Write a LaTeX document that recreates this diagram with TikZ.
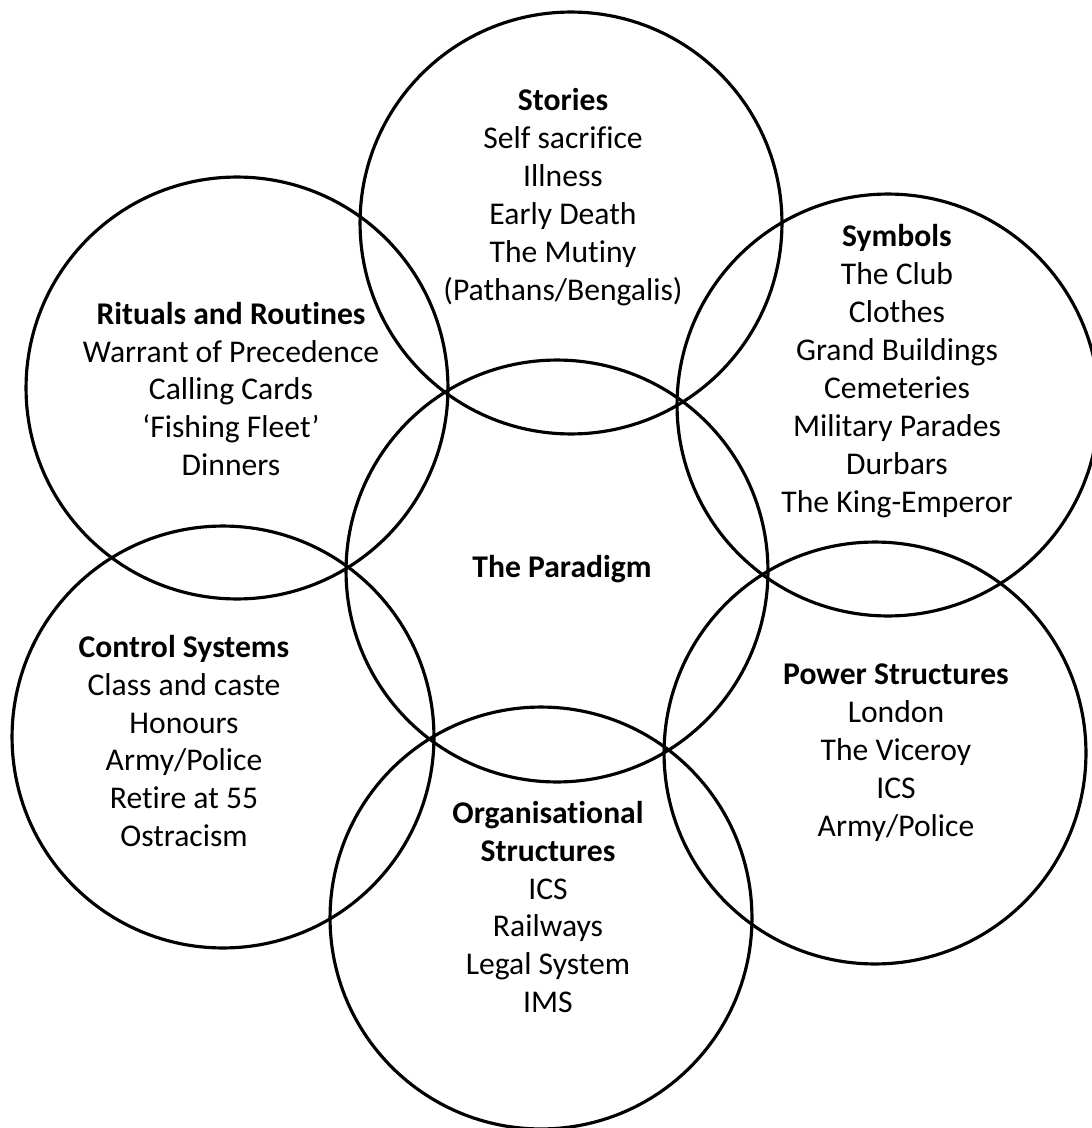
\documentclass[tikz,border=0pt]{standalone}
\usepackage{fontspec}
\setmainfont{Carlito}[Ligatures={NoCommon}]

\begin{document}
\begin{tikzpicture}
  [x=0.02cm,y=-0.02cm,
   % Styles
   ring/.style={circle,draw,line width=1.8pt,minimum size=8.44cm,inner sep=0pt},
   ring text/.style={align=center,inner sep=0pt,
     font=\fontsize{18}{21.6}\selectfont}]

  % Canvas
  \useasboundingbox (0,0) rectangle (1091,1128);

  % The circles
  \node[ring] (paradigm) at (557,571) {};
  \node[ring] (stories)  at (571,223) {};
  \node[ring] (symbols)  at (888,405) {};
  \node[ring] (power)    at (875,753) {};
  \node[ring] (org)      at (541,918) {};
  \node[ring] (control)  at (223,737) {};
  \node[ring] (rituals)  at (237,388) {};

  % The texts
  \node[ring text] (paradigm text) at (562,569) {\textbf{The Paradigm}};

  \node[ring text] (stories text) at (563,197)
    {\textbf{Stories}\\ Self sacrifice\\ Illness\\ Early Death\\
     The Mutiny\\ (Pathans/Bengalis)};

  \node[ring text] (symbols text) at (897,371)
    {\textbf{Symbols}\\ The Club\\ Clothes\\ Grand Buildings\\ Cemeteries\\
     Military Parades\\ Durbars\\ The King-Emperor};

  \node[ring text] (power text) at (896,753)
    {\textbf{Power Structures}\\ London\\ The Viceroy\\ ICS\\ Army/Police};

  \node[ring text] (org text) at (548,907)
    {\textbf{Organisational}\\ \textbf{Structures}\\ ICS\\ Railways\\
     Legal System\\ IMS};

  \node[ring text] (control text) at (184,741)
    {\textbf{Control Systems}\\ Class and caste\\ Honours\\ Army/Police\\
     Retire at 55\\ Ostracism};

  \node[ring text] (rituals text) at (231,389)
    {\textbf{Rituals and Routines}\\ Warrant of Precedence\\ Calling Cards\\
     ‘Fishing Fleet’\\ Dinners};
\end{tikzpicture}
\end{document}
